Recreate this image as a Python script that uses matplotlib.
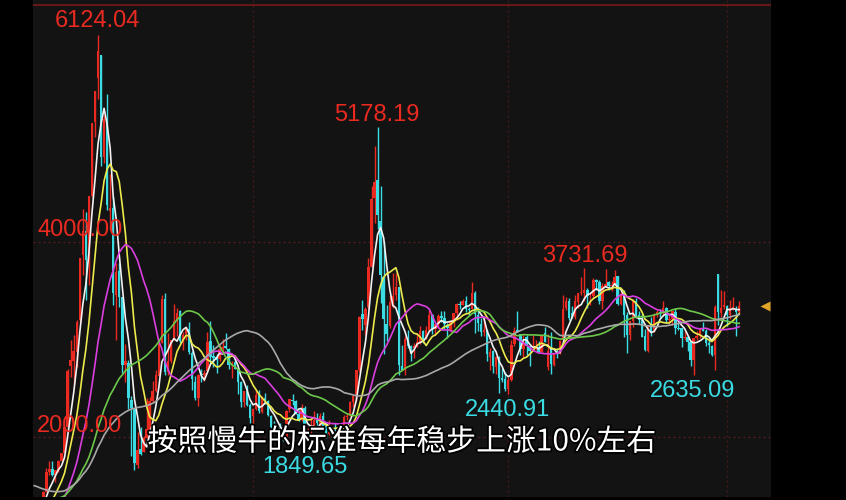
import numpy as np
import pandas as pd
import matplotlib
matplotlib.use("Agg")
import matplotlib.pyplot as plt
import matplotlib.patheffects as pe

# ---------------- data (monthly, Shanghai Composite) ----------------
# closes before the visible window (Jan 2001 - Dec 2005), used for moving averages
hist_close = [
    1959, 1907, 2112, 2119, 2214, 2218, 1920, 1834, 1722, 1690, 1748, 1646,
    1491, 1524, 1603, 1667, 1515, 1732, 1684, 1669, 1581, 1507, 1421, 1358,
    1499, 1512, 1510, 1521, 1576, 1487, 1476, 1421, 1367, 1348, 1397, 1497,
    1590, 1675, 1741, 1595, 1555, 1399, 1386, 1342, 1396, 1320, 1340, 1266,
    1191, 1306, 1181, 1159, 1060, 1080, 1083, 1162, 1155, 1092, 1099, 1161,
]

# visible candles: Jan 2006 - May 2025
opens = [
    1163, 1259, 1299, 1300, 1441, 1642, 1672, 1612, 1658, 1753, 1840, 2100,
    2728, 2784, 2876, 3196, 3866, 4115, 3823, 4468, 5235, 5683, 5915, 4868,
    5265, 4320, 4350, 3458, 3700, 3431, 2738, 2760, 2378, 2284, 1718, 1882,
    1849, 1988, 2060, 2371, 2472, 2631, 2964, 3415, 2665, 2781, 3001, 3194,
    3289, 2976, 3055, 3111, 2858, 2568, 2398, 2644, 2638, 2677, 2982, 2827,
    2825, 2798, 2907, 2932, 2907, 2741, 2766, 2704, 2567, 2356, 2470, 2332,
    2212, 2286, 2437, 2256, 2404, 2371, 2220, 2103, 2045, 2092, 2068, 1971,
    2289, 2377, 2370, 2234, 2171, 2298, 1974, 1992, 2099, 2176, 2137, 2215,
    2112, 2026, 2059, 2035, 2023, 2034, 2050, 2204, 2217, 2360, 2422, 2688,
    3258, 3148, 3332, 3748, 4448, 4633, 4214, 3643, 3157, 3143, 3337, 3456,
    3536, 2730, 2687, 3008, 2936, 2913, 2924, 2971, 3086, 3001, 3102, 3247,
    3105, 3156, 3239, 3218, 3148, 3102, 3193, 3277, 3362, 3357, 3394, 3317,
    3314, 3479, 3250, 3163, 3074, 3084, 2825, 2882, 2717, 2823, 2610, 2600,
    2497, 2590, 2954, 3098, 3052, 2899, 3024, 2929, 2886, 2906, 2924, 2872,
    3066, 2716, 2899, 2738, 2857, 2866, 2991, 3324, 3396, 3273, 3230, 3388,
    3474, 3478, 3506, 3443, 3443, 3614, 3590, 3395, 3548, 3586, 3547, 3567,
    3649, 3362, 3472, 3252, 3047, 3194, 3400, 3253, 3198, 3038, 2879, 3156,
    3087, 3254, 3283, 3277, 3324, 3201, 3210, 3285, 3117, 3114, 3017, 3031,
    2972, 2791, 3011, 3041, 3109, 3091, 2967, 2935, 2842, 3674, 3276, 3329,
    3347, 3250, 3315, 3313, 3279,
]
highs = [
    1263, 1307, 1311, 1445, 1678, 1758, 1757, 1666, 1762, 1839, 2104, 2698,
    2994, 3049, 3197, 3841, 4335, 4311, 4472, 5219, 5553, 6124, 5919, 5303,
    5522, 4695, 4473, 3787, 3786, 3436, 2952, 2785, 2425, 2300, 2051, 2100,
    2012, 2402, 2408, 2579, 2689, 2992, 3455, 3478, 3069, 3000, 3361, 3327,
    3306, 3073, 3130, 3181, 2878, 2628, 2645, 2695, 2690, 3073, 3186, 2939,
    2852, 2945, 3001, 3067, 2914, 2782, 2827, 2709, 2576, 2475, 2536, 2346,
    2300, 2479, 2478, 2417, 2453, 2382, 2225, 2162, 2117, 2141, 2086, 2276,
    2393, 2444, 2378, 2276, 2334, 2315, 2092, 2180, 2270, 2243, 2243, 2259,
    2119, 2177, 2097, 2146, 2061, 2087, 2223, 2248, 2366, 2430, 2684, 3239,
    3406, 3330, 3836, 4573, 4986, 5178, 4572, 4006, 3358, 3454, 3684, 3685,
    3539, 2941, 3040, 3097, 2946, 2961, 3070, 3140, 3101, 3136, 3301, 3265,
    3174, 3260, 3295, 3295, 3167, 3199, 3277, 3375, 3392, 3418, 3451, 3337,
    3587, 3495, 3334, 3220, 3219, 3113, 2915, 2891, 2827, 2834, 2703, 2667,
    2620, 2994, 3129, 3288, 3052, 3047, 3048, 2944, 3042, 3000, 2983, 3056,
    3127, 3058, 3074, 2860, 2909, 2992, 3458, 3433, 3425, 3348, 3457, 3474,
    3637, 3732, 3533, 3481, 3626, 3623, 3614, 3581, 3723, 3605, 3596, 3708,
    3651, 3491, 3510, 3283, 3195, 3414, 3424, 3296, 3260, 3111, 3151, 3226,
    3269, 3306, 3314, 3398, 3336, 3259, 3297, 3322, 3165, 3123, 3090, 3041,
    2976, 3016, 3091, 3109, 3175, 3112, 3009, 2941, 3358, 3674, 3509, 3494,
    3351, 3403, 3440, 3342, 3391,
]
lows = [
    1151, 1254, 1262, 1298, 1437, 1611, 1596, 1541, 1642, 1748, 1836, 2081,
    2617, 2541, 2723, 3171, 3659, 3404, 3563, 4458, 5072, 5462, 4778, 4812,
    4330, 4123, 3357, 2990, 3333, 2655, 2566, 2284, 1802, 1664, 1678, 1814,
    1844, 1988, 2038, 2346, 2461, 2631, 2964, 2639, 2639, 2761, 3000, 3039,
    2963, 2890, 2991, 2849, 2481, 2382, 2319, 2563, 2573, 2670, 2750, 2721,
    2661, 2781, 2861, 2905, 2700, 2610, 2694, 2437, 2307, 2308, 2319, 2149,
    2132, 2281, 2242, 2246, 2341, 2218, 2096, 2039, 2002, 2055, 1959, 1949,
    2254, 2324, 2236, 2161, 2167, 1849, 1951, 1987, 2088, 2123, 2098, 2093,
    1985, 2023, 1974, 2014, 1991, 2010, 2046, 2179, 2213, 2305, 2373, 2663,
    3095, 3050, 3310, 3745, 4198, 4131, 3373, 2850, 2983, 3120, 3323, 3407,
    2638, 2685, 2639, 2910, 2781, 2807, 2921, 2953, 2969, 3001, 3084, 3056,
    3044, 3120, 3181, 3111, 3016, 3081, 3133, 3201, 3317, 3351, 3282, 3254,
    3314, 3062, 3091, 3041, 3041, 2782, 2691, 2653, 2644, 2449, 2565, 2467,
    2441, 2576, 2937, 3078, 2838, 2822, 2844, 2733, 2884, 2892, 2857, 2858,
    2975, 2685, 2647, 2732, 2815, 2852, 2985, 3305, 3202, 3220, 3209, 3325,
    3460, 3400, 3328, 3357, 3421, 3513, 3362, 3312, 3537, 3512, 3496, 3566,
    3357, 3357, 3023, 2863, 2996, 3133, 3226, 3155, 3021, 2885, 2870, 3034,
    3073, 3235, 3227, 3252, 3174, 3165, 3144, 3053, 3093, 2923, 2999, 2882,
    2724, 2635, 2992, 3016, 3084, 2938, 2865, 2832, 2689, 3153, 3229, 3311,
    3140, 3210, 3307, 3040, 3270,
]
closes = [
    1258, 1299, 1299, 1440, 1642, 1672, 1612, 1658, 1752, 1838, 2099, 2675,
    2786, 2881, 3183, 3841, 4109, 3820, 4471, 5218, 5552, 5954, 4871, 5262,
    4383, 4348, 3473, 3693, 3433, 2736, 2776, 2397, 2293, 1729, 1871, 1821,
    1991, 2082, 2373, 2477, 2633, 2959, 3412, 2667, 2779, 2996, 3195, 3277,
    2989, 3051, 3110, 2871, 2592, 2398, 2638, 2639, 2656, 2978, 2820, 2808,
    2791, 2905, 2928, 2911, 2743, 2762, 2701, 2567, 2359, 2468, 2333, 2199,
    2292, 2428, 2263, 2397, 2373, 2225, 2103, 2047, 2086, 2069, 1980, 2269,
    2385, 2366, 2237, 2178, 2301, 1979, 1994, 2098, 2175, 2141, 2220, 2116,
    2033, 2056, 2033, 2026, 2039, 2048, 2202, 2217, 2364, 2420, 2683, 3235,
    3210, 3310, 3748, 4442, 4612, 4277, 3664, 3206, 3053, 3383, 3445, 3539,
    2738, 2688, 3004, 2938, 2917, 2930, 2979, 3085, 3005, 3100, 3250, 3104,
    3159, 3242, 3223, 3155, 3117, 3192, 3273, 3361, 3349, 3393, 3317, 3307,
    3481, 3259, 3169, 3082, 3095, 2847, 2876, 2725, 2821, 2603, 2588, 2494,
    2585, 2941, 3091, 3078, 2899, 2979, 2933, 2886, 2905, 2929, 2871, 3050,
    2977, 2880, 2750, 2860, 2852, 2985, 3310, 3396, 3218, 3225, 3392, 3473,
    3483, 3509, 3442, 3447, 3615, 3591, 3397, 3544, 3568, 3547, 3564, 3640,
    3361, 3462, 3252, 3047, 3186, 3399, 3253, 3202, 3024, 2893, 3151, 3089,
    3256, 3280, 3273, 3323, 3205, 3202, 3291, 3120, 3110, 3018, 3030, 2975,
    2789, 3015, 3041, 3105, 3087, 2967, 2939, 2842, 3336, 3280, 3326, 3352,
    3251, 3321, 3336, 3279, 3347,
]

ma_periods = [5, 10, 20, 40, 60]
ma_colors = ["#f2f2f2", "#ecea4c", "#d93ede", "#6cc84a", "#a9a9a9"]

peak_labels = ["6124.04", "5178.19", "3731.69"]
trough_labels = ["1849.65", "2440.91", "2635.09"]
level_labels = ["4000.00", "2000.00"]
level_values = [4000, 2000]
subtitle = "按照慢牛的标准每年稳步上涨10%左右"

# ---------------- plotting ----------------
UP = "#ea2a20"
DOWN = "#3adbe2"
BG = "#131313"

fig = plt.figure(figsize=(8.46, 5.0), dpi=100, facecolor="black")
ax = fig.add_axes([33 / 846, 3 / 500, (771 - 33) / 846, 497 / 500])
ax.set_facecolor(BG)

o = np.array(opens, float)
h = np.array(highs, float)
l = np.array(lows, float)
c = np.array(closes, float)
x = np.arange(len(c))
up = c >= o

# grid
for v in level_values:
    ax.axhline(v, color="#5a1c1c", lw=0.9, ls=(0, (1.5, 2.5)), zorder=1)
for xi in [72, 156, 228]:
    ax.axvline(xi, color="#4a1a1a", lw=0.9, ls=(0, (1.5, 2.5)), zorder=1)
ax.axhline(6431, color="#701818", lw=1.3, zorder=1)

# candles
cols = np.where(up, UP, DOWN)
ax.vlines(x, l, h, colors=cols, lw=1.0, zorder=2)
body_lo = np.minimum(o, c)
body_h = np.maximum(np.abs(c - o), 8)
ax.bar(x, body_h, bottom=body_lo, width=0.8, color=cols, linewidth=0, zorder=3)

# moving averages
full = pd.Series(hist_close + closes, dtype=float)
off = len(hist_close)
for p, col in zip(ma_periods, ma_colors):
    ma = full.rolling(p).mean().to_numpy()[off:]
    ax.plot(x, ma, color=col, lw=1.2, zorder=4)

ax.set_xlim(-0.39, 242.45)
ax.set_ylim(1385, 6482)
for s in ax.spines.values():
    s.set_visible(False)
ax.set_xticks([])
ax.set_yticks([])

lab_font = dict(family="Liberation Sans", fontsize=17)
# peak labels (red)
ax.text(20.7, 6267, peak_labels[0], color=UP, ha="center", va="center", zorder=6, **lab_font)
ax.text(112.8, 5303, peak_labels[1], color=UP, ha="center", va="center", zorder=6, **lab_font)
ax.text(181.2, 3856, peak_labels[2], color=UP, ha="center", va="center", zorder=6, **lab_font)
# trough labels (cyan)
ax.text(89.1, 1692, trough_labels[0], color=DOWN, ha="center", va="center", zorder=6, **lab_font)
ax.text(155.6, 2277, trough_labels[1], color=DOWN, ha="center", va="center", zorder=6, **lab_font)
ax.text(216.8, 2472, trough_labels[2], color=DOWN, ha="center", va="center", zorder=6, **lab_font)
# level labels
ax.text(0.95, 4123, level_labels[0], color=UP, ha="left", va="center", zorder=6, **lab_font)
ax.text(0.95, 2113, level_labels[1], color=UP, ha="left", va="center", zorder=6, **lab_font)

# last price marker
ax.plot([240.6], [c[-1]], marker="<", ms=7, color="#e0a428", mec="none",
        clip_on=False, zorder=6)

# subtitle
fig.text(402 / 846, 1 - 442 / 500, subtitle, color="white", ha="center", va="center",
         fontsize=21.5, family=["Noto Sans CJK SC", "DejaVu Sans"], weight="medium",
         path_effects=[pe.withStroke(linewidth=2.5, foreground="black")], zorder=10)

fig.savefig("out.png", dpi=100, facecolor="black")
